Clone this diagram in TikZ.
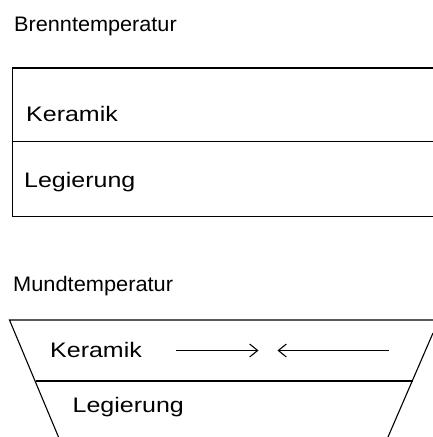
\documentclass[tikz,border=0pt]{standalone}
\usepackage{fontspec}
\setmainfont{Liberation Sans}[FakeStretch=1.19]
\usetikzlibrary{arrows.meta}
\begin{document}
\begin{tikzpicture}[x=1pt,y=-1pt,
  lbl/.style={anchor=base west,inner sep=0pt,font=\fontsize{21}{25}\selectfont},
  edge/.style={line width=1.1pt,black},
  push/.style={line width=1.1pt,-{Straight Barb[length=8pt,width=13pt,line width=1.1pt]}}]
\useasboundingbox (0,0) rectangle (433,437);
% upper diagram
\node[lbl] (t1) at (14,31) {\scalebox{0.867}[1]{Brenntemperatur}};
\draw[edge] (433,68) -- (12.5,68) -- (12.5,216.5) -- (433,216.5);
\draw[edge] (12.5,141.5) -- (433,141.5);
\node[lbl] (k1) at (26,121) {Keramik};
\node[lbl] (l1) at (24,187) {Legierung};
% lower diagram
\node[lbl] (t2) at (13,291.5) {\scalebox{0.872}[1]{Mundtemperatur}};
\draw[edge] (433,320) -- (9.5,320) -- (58.5,437);
\draw[edge] (433,333) -- (388,437);
\draw[edge] (35.5,381) -- (412.5,381);
\node[lbl] (k2) at (50,357) {Keramik};
\node[lbl] (l2) at (72.5,412.5) {Legierung};
\coordinate (a1s) at (175.5,350.5);
\coordinate (a1e) at (258.5,350.5);
\coordinate (a2s) at (389,350.5);
\coordinate (a2e) at (277.5,350.5);
\draw[push] (a1s) -- (a1e);
\draw[push] (a2s) -- (a2e);
\end{tikzpicture}
\end{document}
